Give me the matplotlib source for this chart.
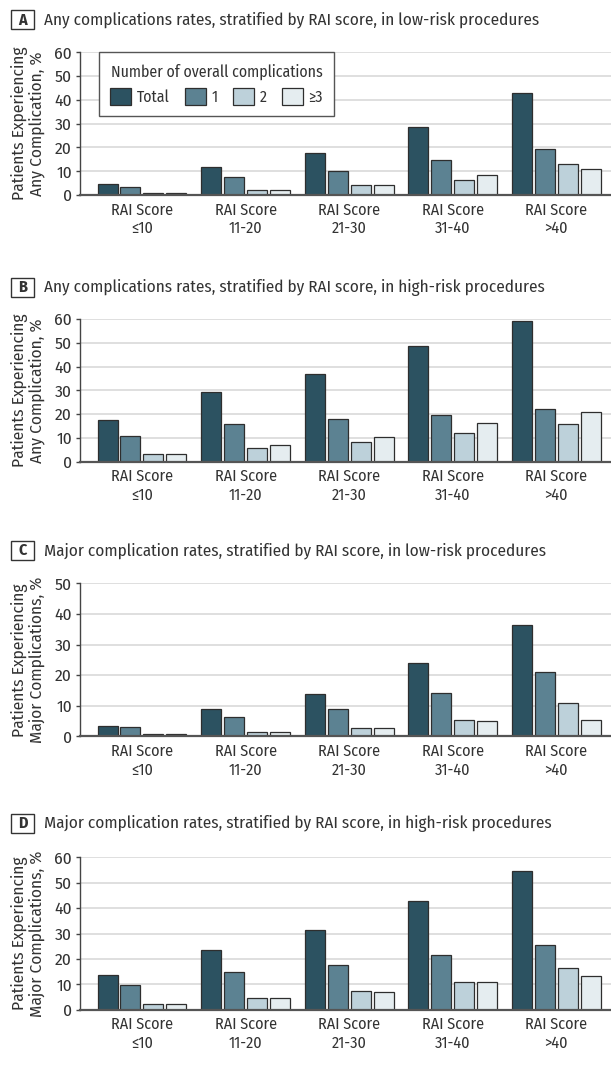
import matplotlib
matplotlib.use("Agg")
import matplotlib.pyplot as plt
from matplotlib.patches import Rectangle
import numpy as np

plt.rcParams['font.family'] = ['Fira Sans Condensed', 'Liberation Sans', 'DejaVu Sans']

# ---------------- data ----------------
categories = ["RAI Score\n\u226410", "RAI Score\n11-20", "RAI Score\n21-30", "RAI Score\n31-40", "RAI Score\n>40"]
series_names = ["Total", "1", "2", "\u22653"]

A_total = [4.6, 11.6, 17.6, 28.6, 42.9]
A_one   = [3.5, 7.7, 10.2, 14.9, 19.4]
A_two   = [0.7, 2.1, 4.1, 6.2, 13.0]
A_three = [0.7, 2.1, 4.1, 8.3, 10.9]

B_total = [17.6, 29.2, 36.9, 48.5, 59.2]
B_one   = [10.9, 16.0, 17.8, 19.8, 22.3]
B_two   = [3.1, 5.7, 8.4, 11.9, 15.8]
B_three = [3.1, 7.0, 10.5, 16.1, 20.7]

C_total = [3.5, 8.9, 13.7, 24.0, 36.5]
C_one   = [2.9, 6.4, 8.9, 14.1, 20.9]
C_two   = [0.65, 1.4, 2.8, 5.4, 11.0]
C_three = [0.65, 1.4, 2.6, 4.9, 5.2]

D_total = [13.5, 23.7, 31.3, 42.7, 54.7]
D_one   = [9.6, 14.7, 17.6, 21.6, 25.6]
D_two   = [2.1, 4.8, 7.3, 10.9, 16.3]
D_three = [2.1, 4.8, 6.9, 10.8, 13.4]

titles = [
    "Any complications rates, stratified by RAI score, in low-risk procedures",
    "Any complications rates, stratified by RAI score, in high-risk procedures",
    "Major complication rates, stratified by RAI score, in low-risk procedures",
    "Major complication rates, stratified by RAI score, in high-risk procedures",
]
letters = ["A", "B", "C", "D"]
ylabels = [
    "Patients Experiencing\nAny Complication, %",
    "Patients Experiencing\nAny Complication, %",
    "Patients Experiencing\nMajor Complications, %",
    "Patients Experiencing\nMajor Complications, %",
]
ymaxes = [60, 60, 50, 60]
panel_series = [
    [A_total, A_one, A_two, A_three],
    [B_total, B_one, B_two, B_three],
    [C_total, C_one, C_two, C_three],
    [D_total, D_one, D_two, D_three],
]

# ---------------- style ----------------
colors = ["#2c5261", "#5c8292", "#bdd1da", "#e5edf0"]
edge = "#2e2e2e"
text_color = "#333333"

W, H = 611, 1066
fig = plt.figure(figsize=(W / 100, H / 100), dpi=100)

# pixel layout: (axes top px, axes bottom px, title center px)
layout = [(52.3, 195.0, 19.5), (319.0, 461.7, 287.0), (583.3, 736.3, 550.0), (857.3, 1009.7, 823.0)]
ax_left_px = 80.0

pitch = 0.2215
bar_w = 0.193
x = np.arange(len(categories))

for i, (top, bot, ty) in enumerate(layout):
    ax = fig.add_axes([ax_left_px / W, 1 - bot / H, 1 - ax_left_px / W, (bot - top) / H])
    ax.set_axisbelow(True)
    for k, vals in enumerate(panel_series[i]):
        ax.bar(x + (k - 1.5) * pitch, vals, width=bar_w, color=colors[k],
               edgecolor=edge, linewidth=0.9, label=series_names[k], zorder=3)
    ax.set_ylim(0, ymaxes[i])
    ax.set_xlim(-0.598, 4.526)
    ax.set_yticks(np.arange(0, ymaxes[i] + 1, 10))
    ax.yaxis.grid(True, color="#d6d6d6", linewidth=1.1, zorder=0)
    ax.xaxis.grid(False)
    ax.set_xticks(x)
    ax.set_xticklabels(categories, fontsize=11.6, color=text_color, linespacing=1.22)
    ax.tick_params(axis='x', length=0, pad=5)
    ax.tick_params(axis='y', length=3.2, width=1.0, color="#444444", pad=2.5,
                   labelsize=12.5, labelcolor=text_color, direction='out')
    for s in ["top", "right"]:
        ax.spines[s].set_visible(False)
    ax.spines["left"].set_color("#444444")
    ax.spines["left"].set_linewidth(1.0)
    ax.spines["bottom"].set_color("#555555")
    ax.spines["bottom"].set_linewidth(1.6)
    ax.spines["bottom"].set_zorder(4)

    # y label
    fig.text(28 / W, 1 - ((top + bot) / 2) / H, ylabels[i], rotation=90, ha='center', va='center',
             fontsize=12.5, color=text_color, linespacing=1.1, multialignment='center')

    # panel letter box + title
    bw, bh = 23, 19
    bx, by = 11, ty - bh / 2
    fig.add_artist(Rectangle((bx / W, 1 - (by + bh) / H), bw / W, bh / H,
                             transform=fig.transFigure, facecolor="white",
                             edgecolor="#333333", linewidth=1.0))
    fig.text((bx + bw / 2) / W, 1 - (ty + 0.5) / H, letters[i], ha='center', va='center',
             fontsize=11.5, fontweight='bold', color=text_color)
    fig.text(44 / W, 1 - (ty + 0.5) / H, titles[i], ha='left', va='center',
             fontsize=12.3, color=text_color)

    if i == 0:
        leg = ax.legend(title="Number of overall complications", ncol=4,
                        loc='upper left', bbox_to_anchor=(99.3 / W, 1 - 52.3 / H),
                        bbox_transform=fig.transFigure, borderaxespad=0,
                        fontsize=11.4, title_fontsize=11.4, frameon=True, fancybox=False,
                        framealpha=1, edgecolor="#555555", borderpad=0.7,
                        handlelength=1.3, handleheight=1.3, handletextpad=0.35,
                        columnspacing=1.0, labelspacing=0.5)
        leg.get_frame().set_linewidth(1.0)
        for t in leg.get_texts():
            t.set_color(text_color)
        leg.get_title().set_color(text_color)
        leg.set_zorder(5)

fig.savefig("out.png", dpi=100, facecolor="white")
